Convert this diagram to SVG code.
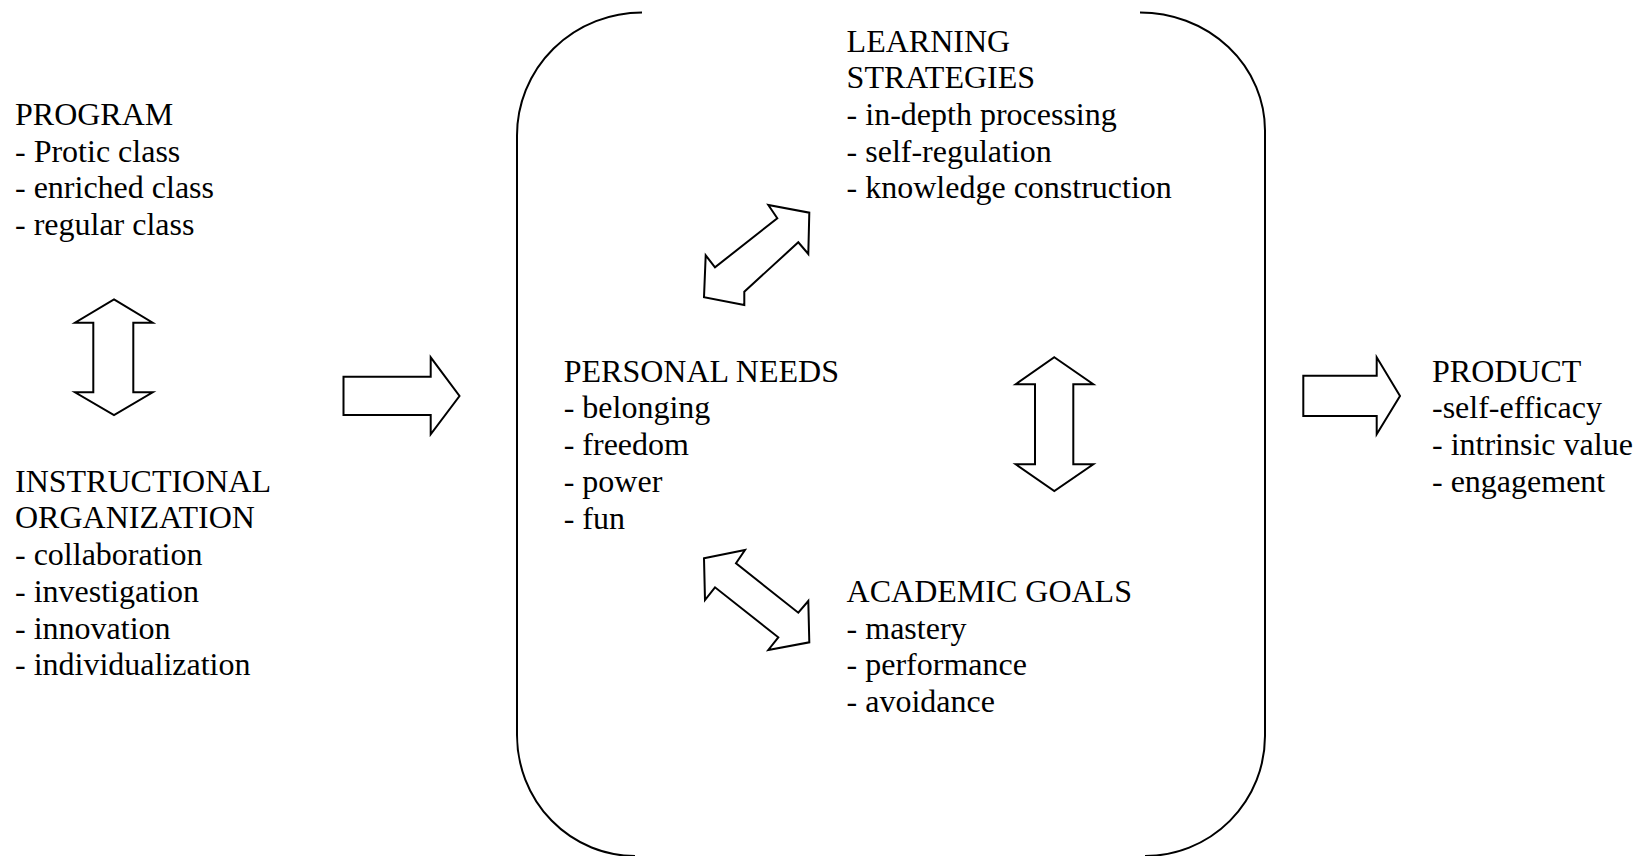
<svg xmlns="http://www.w3.org/2000/svg" width="1643" height="856" viewBox="0 0 1643 856">
  <style>
    text { font-family: "Liberation Serif", "Times New Roman", serif; font-size: 32px; fill: #000; }
    .outline { fill: #fff; stroke: #000; stroke-width: 2; stroke-linejoin: miter; }
    .frame { fill: none; stroke: #000; stroke-width: 2; }
  </style>
  <rect width="1643" height="856" fill="#fff"/>

  <!-- bracket enclosing the personal/learning/goal cluster -->
  <g id="enclosure">
    <path class="frame" d="M 642 12.5 A 125 123 0 0 0 517 135.5 L 517 735 A 118 121 0 0 0 635 856"/>
    <path class="frame" d="M 1140 12.5 A 125 118 0 0 1 1265 130.5 L 1265 736 A 120 120 0 0 1 1145 856"/>
  </g>

  <g id="program">
    <text x="15" y="125">PROGRAM</text>
    <text x="15" y="161.7">- Protic class</text>
    <text x="15" y="198.4">- enriched class</text>
    <text x="15" y="235.1">- regular class</text>
  </g>

  <g id="instructional-organization">
    <text x="15" y="491.7">INSTRUCTIONAL</text>
    <text x="15" y="528.4">ORGANIZATION</text>
    <text x="15" y="565.1">- collaboration</text>
    <text x="15" y="601.8">- investigation</text>
    <text x="15" y="638.5">- innovation</text>
    <text x="15" y="675.2">- individualization</text>
  </g>

  <g id="learning-strategies">
    <text x="846.6" y="51.6">LEARNING</text>
    <text x="846.6" y="88.3">STRATEGIES</text>
    <text x="846.6" y="125">- in-depth processing</text>
    <text x="846.6" y="161.7">- self-regulation</text>
    <text x="846.6" y="198.4">- knowledge construction</text>
  </g>

  <g id="personal-needs">
    <text x="563.7" y="381.7">PERSONAL NEEDS</text>
    <text x="563.7" y="418.4">- belonging</text>
    <text x="563.7" y="455.1">- freedom</text>
    <text x="563.7" y="491.8">- power</text>
    <text x="563.7" y="528.5">- fun</text>
  </g>

  <g id="academic-goals">
    <text x="846.6" y="601.8">ACADEMIC GOALS</text>
    <text x="846.6" y="638.5">- mastery</text>
    <text x="846.6" y="675.2">- performance</text>
    <text x="846.6" y="711.9">- avoidance</text>
  </g>

  <g id="product">
    <text x="1432" y="381.7">PRODUCT</text>
    <text x="1432" y="418.4">-self-efficacy</text>
    <text x="1432" y="455.1">- intrinsic value</text>
    <text x="1432" y="491.8">- engagement</text>
  </g>

  <!-- block arrows -->
  <g id="connectors">
    <!-- program <-> instructional organization -->
    <polygon class="outline" points="114,299.3 152.7,322.7 133.3,322.7 133.3,392.3 152.7,392.3 114,415 75,392.3 93.3,392.3 93.3,322.7 75,322.7"/>
    <!-- inputs -> cluster -->
    <polygon class="outline" points="343.5,376.7 430.7,376.7 430.7,357.3 459.5,396 430.7,434.3 430.7,415 343.5,415"/>
    <!-- personal needs <-> learning strategies -->
    <polygon class="outline" points="809.3,212.7 808.3,254 798.3,242.3 744.3,291.7 744.3,305 704,297.3 705.7,255.3 715,267.3 777.3,218.3 768.3,205"/>
    <!-- learning strategies <-> academic goals -->
    <polygon class="outline" points="1054.3,357.3 1093.3,384.3 1073.3,384.3 1073.3,464.3 1093.3,464.3 1054.3,491 1015.7,464.3 1035,464.3 1035,384.3 1015.7,384.3"/>
    <!-- personal needs <-> academic goals -->
    <polygon class="outline" points="704,558.3 745,550 736,563.3 798.3,612.7 808.3,601 809.3,642.3 768.3,650 778.3,637.3 715,587.3 705,600"/>
    <!-- cluster -> product -->
    <polygon class="outline" points="1303.3,375.7 1376.7,375.7 1376.7,357.3 1400,396 1376.7,434.3 1376.7,416 1303.3,416"/>
  </g>
</svg>
